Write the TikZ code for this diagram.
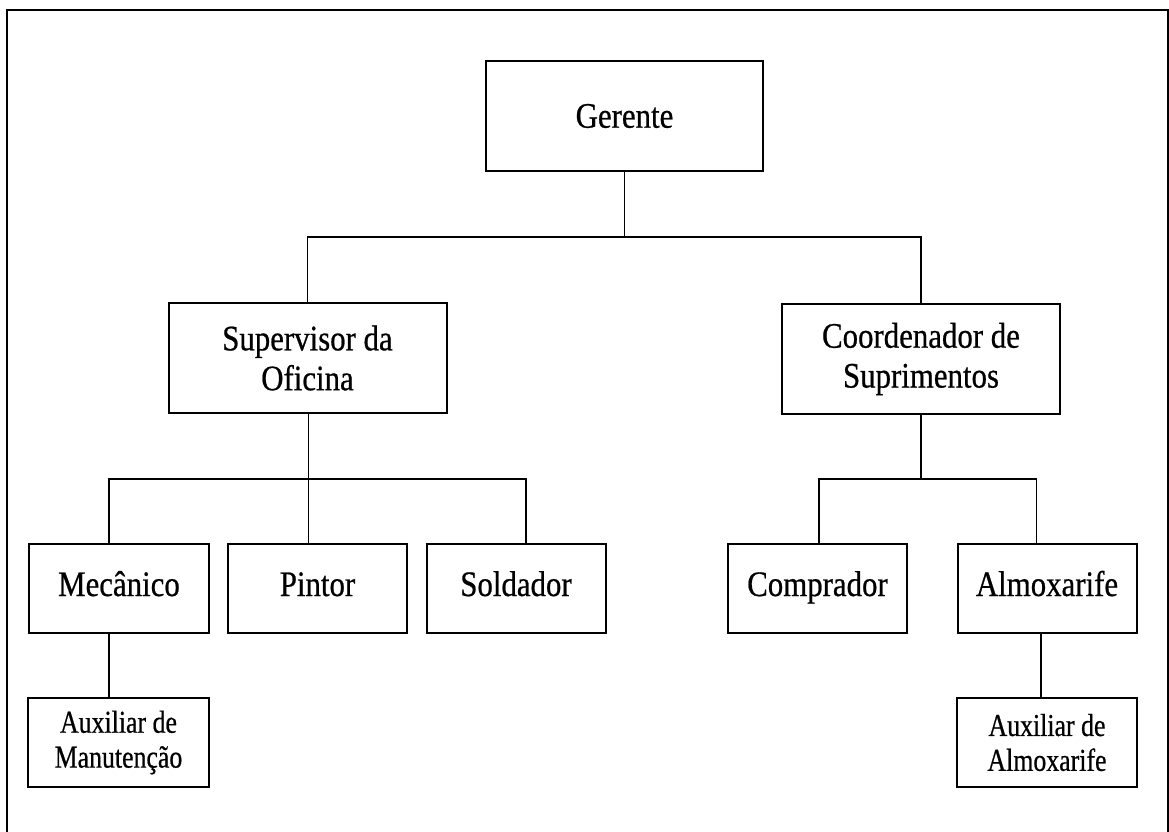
\documentclass[tikz,border=0pt]{standalone}
\usepackage{fontspec}
\setmainfont{Liberation Serif}
\newfontfamily\titlefont[FakeStretch=0.86,FakeBold=0.6]{Liberation Serif}
\newfontfamily\subfont[FakeStretch=0.81,FakeBold=0.6]{Liberation Serif}
\begin{document}
\begin{tikzpicture}[x=1bp,y=-1bp,
  box/.style={draw, line width=2bp, inner sep=0pt, align=center},
  upper/.style={box, font=\titlefont\fontsize{36}{40}\selectfont,
    minimum width=278bp, minimum height=110bp},
  lower/.style={box, font=\titlefont\fontsize{36}{40}\selectfont,
    minimum width=179bp, minimum height=89bp,
    text height=25bp, text depth=10bp},
  helper/.style={box, font=\subfont\fontsize{32}{35}\selectfont,
    minimum width=180bp, minimum height=89bp},
  conn/.style={line width=1.8bp},
  frame/.style={line width=2.2bp}]

% page
\fill[white] (0,0) rectangle (1169,832);
\useasboundingbox (0,0) rectangle (1169,832);

% outer frame (open at the bottom)
\draw[frame] (7,832) -- (7,10) -- (1168,10) -- (1168,832);

% positions
\node[upper, minimum width=277bp] (ger) at (624.5,116) {Gerente};
\node[upper] (sup) at (307.5,358) {Supervisor da\\Oficina};
\node[upper] (coo) at (921,359) {Coordenador de\\Suprimentos};

\node[lower] (mec) at (119,588.5) {Mecânico};
\node[lower] (pin) at (317.5,588.5) {Pintor};
\node[lower] (sol) at (516,588.5) {Soldador};
\node[lower] (com) at (817.5,588.5) {Comprador};
\node[lower] (alm) at (1047,588.5) {Almoxarife};

\node[helper] (auxm) at (118.5,742.5) {Auxiliar de\\Manutenção};
\node[helper] (auxa) at (1047,742.5) {Auxiliar de\\Almoxarife};

% junction points of the buses
\coordinate (j0) at (624.5,237);
\coordinate (j1) at (308.5,479);
\coordinate (j2) at (921,479);

% connectors
\draw[conn] (ger.south) -- (j0);
\draw[conn] (sup.north) |- (j0) -| (coo.north);

\draw[conn] ([xshift=1bp]sup.south) -- (j1);
\draw[conn] ([xshift=-10bp]mec.north) |- (j1) -| ([xshift=10bp]sol.north);
\draw[conn] (j1) -- (j1 |- pin.north);

\draw[conn] (coo.south) -- (j2);
\draw[conn] ([xshift=1.5bp]com.north) |- (j2) -| ([xshift=-10.5bp]alm.north);

\draw[conn] ([xshift=-10bp]mec.south) -- ([xshift=-9.5bp]auxm.north);
\draw[conn] ([xshift=-6bp]alm.south) -- ([xshift=-6bp]auxa.north);
\end{tikzpicture}
\end{document}
